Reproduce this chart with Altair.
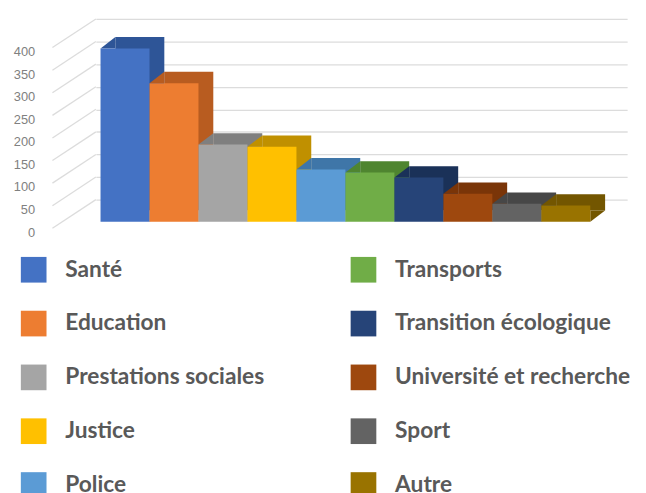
import altair as alt
import pandas as pd

categories = ["Santé", "Education", "Prestations sociales", "Justice", "Police",
              "Transports", "Transition écologique", "Université et recherche",
              "Sport", "Autre"]
values = [384, 307, 171, 166, 116, 109, 98, 62, 40, 36]
front_colors = ["#4472C4", "#ED7D31", "#A5A5A5", "#FFC000", "#5B9BD5",
                "#70AD47", "#264478", "#9E480E", "#636363", "#997300"]
side_colors = ["#2E5597", "#B85C20", "#7F7F7F", "#C09000", "#3F76A8",
               "#4F8530", "#1A3158", "#7A3508", "#474747", "#735600"]
tick_values = [0, 50, 100, 150, 200, 250, 300, 350, 400]

df = pd.DataFrame({"categorie": categories, "valeur": values,
                   "face": front_colors, "cote": side_colors})
ticks_df = pd.DataFrame({"v": tick_values})

xscale = alt.Scale(paddingInner=0, paddingOuter=0.4235, align=0.112)
yscale = alt.Scale(domain=[0, 400], nice=False)
yaxis = alt.Axis(values=tick_values, title=None, domain=False, ticks=False,
                 labelPadding=62, labelOffset=33, labelFont="Liberation Sans",
                 labelFontSize=13, labelColor="#808080", grid=True,
                 gridColor="#dcdcdc", gridWidth=1.3)
x = alt.X("categorie:N", sort=categories, scale=xscale, axis=None)

# side wall lines
diag = alt.Chart(ticks_df).mark_rule(color="#dcdcdc", strokeWidth=1.3,
                                     yOffset=29, y2Offset=0).encode(
    x=alt.value(-44), x2=alt.value(0),
    y=alt.Y("v:Q", scale=yscale, axis=yaxis), y2=alt.Y2("v"))

# top + side faces (box shifted in depth)
side = alt.Chart(df).mark_bar(xOffset=15, yOffset=11, y2Offset=11).encode(
    x=x, y=alt.Y("valeur:Q", scale=yscale, axis=yaxis),
    color=alt.Color("cote:N", scale=None))

# bevel triangles for the depth edges
top_tri = alt.Chart(df).mark_point(
    shape="M-1,0.767L1,-0.767L1,0.767Z", size=225, filled=True, opacity=1,
    strokeWidth=0, xOffset=-17.3, yOffset=16.75).encode(
    x=x, y=alt.Y("valeur:Q", scale=yscale, axis=yaxis),
    color=alt.Color("cote:N", scale=None))

bot_tri = alt.Chart(df).mark_point(
    shape="M-1,-0.767L1,-0.767L-1,0.767Z", size=225, filled=True, opacity=1,
    strokeWidth=0, xOffset=32.3, yOffset=16.75).encode(
    x=x, y=alt.Y(datum=0, scale=yscale, axis=yaxis),
    color=alt.Color("cote:N", scale=None))

front = alt.Chart(df).mark_bar(yOffset=22.5, y2Offset=22.5).encode(
    x=x, y=alt.Y("valeur:Q", scale=yscale, axis=yaxis),
    color=alt.Color("categorie:N",
                    scale=alt.Scale(domain=categories, range=front_colors),
                    legend=alt.Legend(title=None, orient="none", legendX=-76,
                                      legendY=241, columns=2,
                                      symbolType="square", symbolSize=676,
                                      symbolStrokeWidth=0, symbolOpacity=1,
                                      labelFont="Lato", labelFontSize=23,
                                      labelFontWeight="bold",
                                      labelColor="#595959", labelOffset=19,
                                      columnPadding=87, rowPadding=28.5,
                                      labelLimit=400)))

chart = alt.layer(diag, side, top_tri, bot_tri, front).properties(
    width=538, height=183,
    background="white",
    autosize=alt.AutoSizeParams(type="none"),
    padding={"left": 89, "top": 8, "right": 11, "bottom": 294},
).configure_view(stroke=None)

chart.save("out.html", embed_options={"renderer": "svg", "actions": False})
